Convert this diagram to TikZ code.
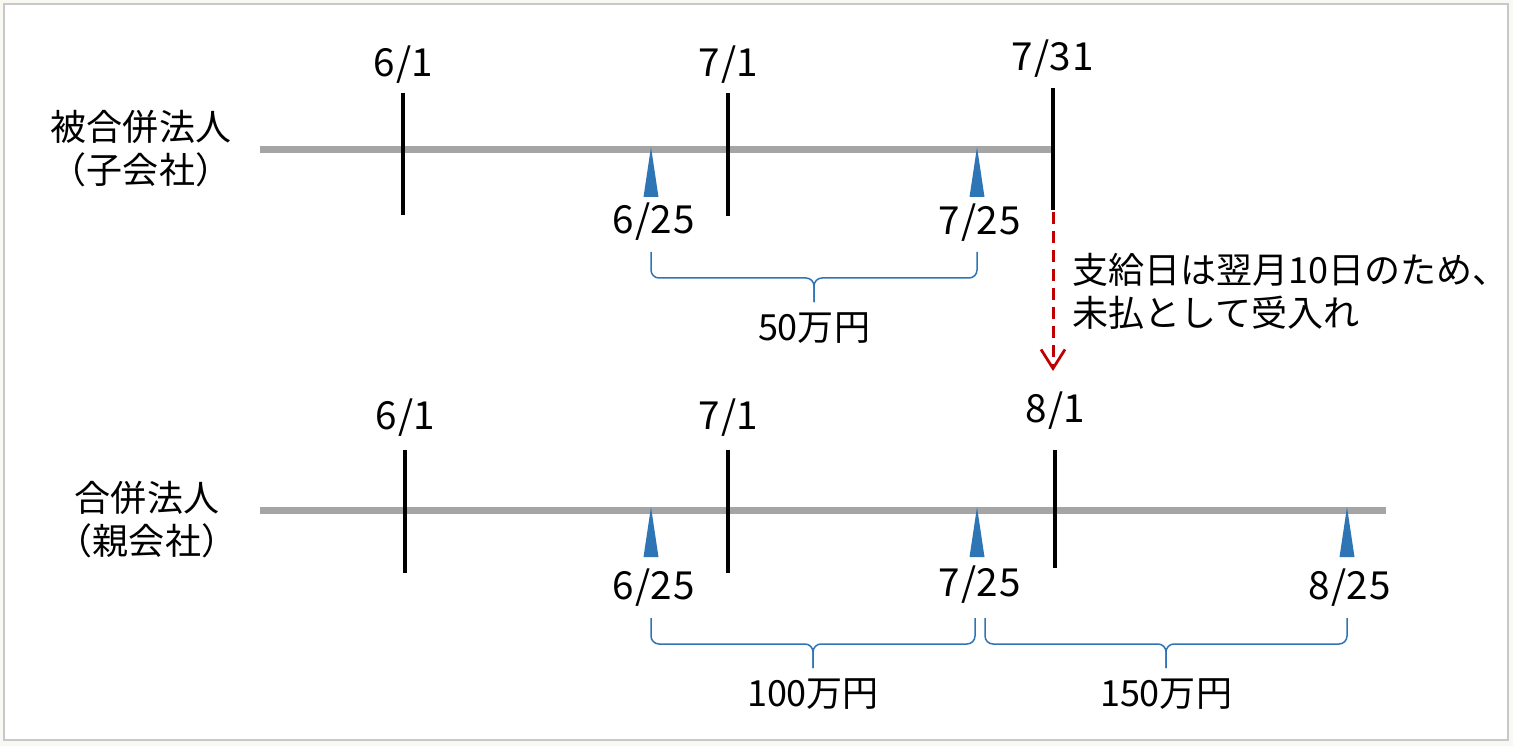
\documentclass[tikz,border=0pt]{standalone}
\usepackage{fontspec}
\setmainfont{Noto Sans CJK JP}
\usetikzlibrary{arrows.meta}
\definecolor{paybl}{HTML}{2E75B6}
\definecolor{axisgr}{HTML}{A5A5A5}
\definecolor{moved}{HTML}{C00000}
\definecolor{pagebg}{HTML}{FAF8F2}
\definecolor{framegr}{HTML}{C8C8C8}

\begin{document}
\begin{tikzpicture} [
                x=0.02cm, y=-0.02cm,
                every node/.style={font=\fontsize{20.5}{24.5}\selectfont, inner sep=0pt},
                party/.style={align=center, font=\fontsize{20.5}{24.5}\selectfont\addfontfeatures{RawFeature=+halt}},
                date/.style={font=\fontsize{22}{24.5}\selectfont\addfontfeatures{LetterSpace=4}},
                axis/.style = {draw=axisgr, line width=0.14cm},
                tick/.style = {draw=black, line width=0.08cm},
                payday/.style = {fill=paybl},
                brace/.style = {draw=paybl, line width=0.03cm, rounded corners=0.16cm},
                carry/.style = {draw=moved, line width=0.06cm, dash pattern=on 0.24cm off 0.14cm,
                    -{Straight Barb[length=0.38cm, width=0.48cm, line width=0.055cm]}},
            ]
            \useasboundingbox (0,0) rectangle (1513,746);
            \fill[pagebg] (0,0) rectangle (1513,746);
            \draw[framegr, fill=white, line width=0.04cm] (4,4) rectangle (1508,740);
            % parties
            \node[party] (sub) at (141,149) {被合併法人\\（子会社）};
            \node[party] (parent) at (147,520) {合併法人\\（親会社）};
            % time lines
            \coordinate (subL) at (260,150);
            \coordinate (subR) at (1052,150);
            \coordinate (parL) at (260,510);
            \coordinate (parR) at (1386,510);
            \path[axis] (subL) -- (subR);
            \path[axis] (parL) -- (parR);
            % month ticks
            \foreach \x/\ya/\yb/\name/\txt/\ty in {
                    403/93/215/s61/6\slash 1/65, 728/93/216/s71/7\slash 1/65, 1053/88/210/s731/7\slash 31/59,
                    405/450/573/p61/6\slash 1/418, 728/450/573/p71/7\slash 1/418, 1055/450/568/p81/8\slash 1/411}
                {
                \coordinate (\name-top) at (\x,\ya);
                \coordinate (\name-bot) at (\x,\yb);
                \path[tick] (\name-top) -- (\name-bot);
                \node[date] (\name) at (\x,\ty) {\txt};
                }
            % pay days
            \foreach \x/\y/\name/\txt/\ty in {
                    651/147/s625/6\slash 25/222, 977/147/s725/7\slash 25/223,
                    651/507/p625/6\slash 25/588, 977/507/p725/7\slash 25/585, 1347/507/p825/8\slash 25/588}
                {
                \fill[payday] (\x,\y) -- (\x+7.5,\y+50) -- (\x-7.5,\y+50) -- cycle;
                \node[date] (\name) at (\x+3,\ty) {\txt};
                }
            % amounts
            \foreach \xa/\xb/\y/\name/\txt in {
                    651/977/252/s50/50万円, 651/975/618/p100/100万円, 985/1347/618/p150/150万円}
                {
                \path[brace] (\xa,\y) -- (\xa,\y+26) -- ({(\xa+\xb)/2},\y+26) -- ({(\xa+\xb)/2},\y+50);
                \path[brace] (\xb,\y) -- (\xb,\y+26) -- ({(\xa+\xb)/2},\y+26) -- ({(\xa+\xb)/2},\y+50);
                \node (\name) at ({(\xa+\xb)/2},\y+76) {\txt};
                }
            % unpaid carried over
            \coordinate (carryEnd) at (1053,371);
            \path[carry] ([yshift=-0.04cm]s731-bot) -- (carryEnd);
            \node[anchor=west, align=left, font=\fontsize{20.5}{24.5}\selectfont\addfontfeatures{RawFeature=+halt}] (note) at (1072,291)
                {支給日は翌月10日のため、\\未払として受入れ};
        \end{tikzpicture}
\end{document}
